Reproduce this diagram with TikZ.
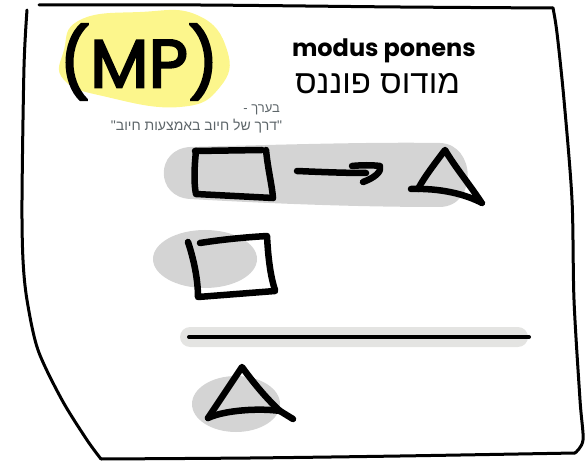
\documentclass[tikz,border=0pt]{standalone}
\usepackage{fontspec}
\setmainfont{Poppins}
\newfontfamily\mpfont[FakeBold=3]{Poppins}
\newfontfamily\hebfont[Script=Hebrew]{Liberation Sans}
\TeXXeTstate=1
\definecolor{hilite}{HTML}{FCF68C}
\definecolor{bandgray}{HTML}{D4D4D4}
\definecolor{rulegray}{HTML}{E4E4E2}
\definecolor{notegray}{HTML}{5E666A}
\tikzset{
  marker/.style={line width=6.5pt, line cap=round, line join=round, draw=black},
  pen/.style={line width=3pt, line cap=round, line join=round, draw=black},
  shade/.style={fill=bandgray, draw=none},
  label/.style={inner sep=0pt, outer sep=0pt},
}
\begin{document}
\begin{tikzpicture}[x=1pt, y=-1pt]
\useasboundingbox (0,0) rectangle (586,462);

% sheet outline
\draw[pen] plot[smooth] coordinates {(39,5) (200,5) (400,7) (553,8)};
\draw[pen] plot[smooth] coordinates {(553,8) (557,33) (564,100) (572,200) (574,300) (580,400) (583,440) (575,453)};
\draw[pen] plot[smooth] coordinates {(575,453) (400,456) (250,458) (101,459)};
\draw[pen] plot[smooth] coordinates {(27,10) (24,67) (22,200) (23,260) (27,300) (38,350) (62,400) (87,440) (101,459)};

% highlighter blob behind the title
\fill[hilite] plot[smooth cycle, tension=0.8] coordinates
  {(80,20) (140,12) (197,15) (227,50) (220,87) (180,107) (107,97) (64,80) (64,50)};

% title texts
\node[label] (mp) at (139,62) {\mpfont\fontsize{68}{68}\selectfont (MP)};
\node[label, anchor=base west] (en) at (292,57) {\fontsize{24}{24}\selectfont\bfseries modus ponens};
\node[label, anchor=base east] (he) at (460,94) {\hebfont\fontsize{33}{33}\selectfont\beginR מודוס פוננס\endR};

% small note
\node[label, anchor=base east, text=notegray] (n1) at (280,113)
  {\hebfont\fontsize{13}{13}\selectfont\beginR בערך -\endR};
\node[label, anchor=base east, text=notegray] (n2) at (282,131)
  {\hebfont\fontsize{14}{14}\selectfont\beginR "דרך של חיוב באמצעות חיוב"\endR};

% first premise: square implies triangle
\fill[bandgray] (190,147) .. controls (300,144) and (380,142) .. (440,143)
  .. controls (476,144) and (478,206) .. (440,207)
  .. controls (350,207) and (260,203) .. (190,199)
  .. controls (155,197) and (155,149) .. (190,147) -- cycle;
\draw[marker] (196,151) .. controls (194,170) and (194,185) .. (196,194) -- (273,198);
\draw[marker] (195,151) -- (262,150);
\draw[marker] (266,150) .. controls (268,170) and (272,185) .. (273,198);

\coordinate (a0) at (297,171);
\coordinate (a1) at (380,166);
\coordinate (a2) at (363,182);
\draw[marker] (a0) .. controls (320,172) and (345,173) .. (366,173);
\draw[marker] (352,166) .. controls (362,165) and (372,165) .. (a1)
  .. controls (382,172) and (374,178) .. (a2);

\draw[marker] (418,189) .. controls (425,176) and (436,162) .. (445,150)
  .. controls (455,167) and (470,185) .. (481,202);
\draw[marker] (411,189) .. controls (440,188) and (465,194) .. (482,203);

% second premise: square
\fill[shade] (205,259) ellipse [x radius=52, y radius=29];
\draw[marker] (188,242) .. controls (194,260) and (198,280) .. (198,297) -- (275,291);
\draw[marker] (200,243) .. controls (225,239) and (250,237) .. (267,236)
  .. controls (268,255) and (270,275) .. (275,290);

% inference rule line
\fill[rulegray, rounded corners=10] (180,327) rectangle (528,347);
\draw[line width=4pt, line cap=round] (189,337) -- (529,337);

% conclusion: triangle
\fill[shade] (236,404) ellipse [x radius=44, y radius=28];
\draw[marker] (208,418) .. controls (220,400) and (232,382) .. (242,367)
  .. controls (255,385) and (268,400) .. (280,411) -- (293,419);
\draw[marker] (208,418) .. controls (225,410) and (260,408) .. (280,411);
\end{tikzpicture}
\end{document}
